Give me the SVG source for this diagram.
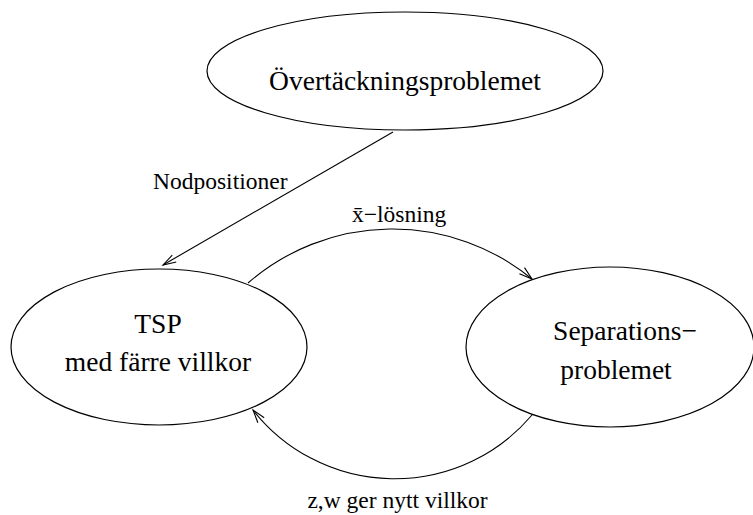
<svg xmlns="http://www.w3.org/2000/svg" width="753" height="515" viewBox="0 0 753 515">
<style>
.n{fill:none;stroke:#000;stroke-width:1.2}
.c{fill:none;stroke:#000;stroke-width:1.1;marker-end:url(#ah)}
.t{font-family:'Liberation Serif','Times New Roman',Times,'DejaVu Serif',serif;font-size:27.5px;fill:#000;text-anchor:middle}
.s{font-family:'Liberation Serif','Times New Roman',Times,'DejaVu Serif',serif;font-size:23.5px;fill:#000}
</style>
<defs>
<marker id="ah" markerWidth="16" markerHeight="10" refX="14" refY="5" orient="auto" markerUnits="userSpaceOnUse">
<path d="M1,1 L14,5 L1,9" fill="none" stroke="#000" stroke-width="1.1"/>
</marker>
</defs>
<rect width="753" height="515" fill="#fff"/>
<g id="node-overtackning">
<ellipse class="n" cx="405" cy="71" rx="198" ry="59"/>
<text class="t" x="405" y="90" font-family="Liberation Serif, serif">Övertäckningsproblemet</text>
</g>
<g id="node-tsp">
<ellipse class="n" cx="159" cy="347" rx="148" ry="78"/>
<text class="t" x="158" y="333" font-family="Liberation Serif, serif">TSP</text>
<text class="t" x="158" y="371" font-family="Liberation Serif, serif">med färre villkor</text>
</g>
<g id="node-separation">
<ellipse class="n" cx="610" cy="347" rx="144" ry="80"/>
<text class="t" x="625" y="340" font-family="Liberation Serif, serif">Separations−</text>
<text class="t" x="616" y="379" font-family="Liberation Serif, serif">problemet</text>
</g>
<g id="connectors">
<path class="c" d="M393,132 L163,265"/>
<path class="c" d="M248,283 A220,220 0 0 1 532,279"/>
<path class="c" d="M532,415 A180,180 0 0 1 253,410"/>
</g>
<g id="labels">
<text class="s" x="153" y="189" font-family="Liberation Serif, serif">Nodpositioner</text>
<text class="s" x="352" y="222" font-family="Liberation Serif, serif">x̄−lösning</text>
<text class="s" x="397.5" y="508" text-anchor="middle" font-family="Liberation Serif, serif">z,w ger nytt villkor</text>
</g>
</svg>
